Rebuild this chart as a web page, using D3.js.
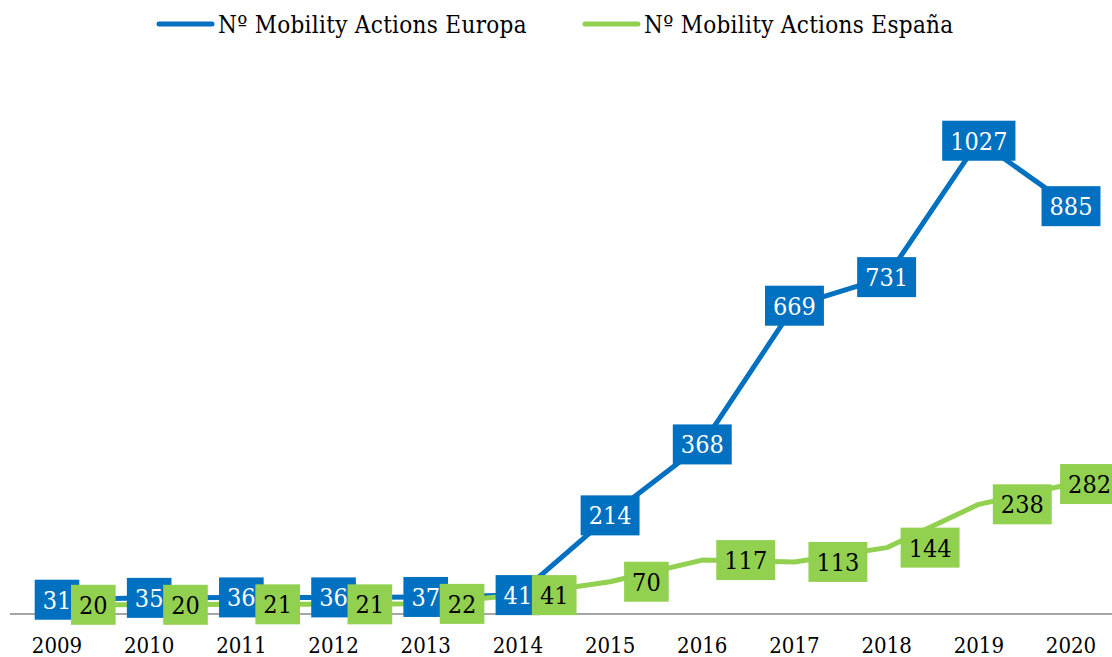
<!DOCTYPE html>
<html>
<head>
<meta charset="utf-8">
<script src="https://cdn.jsdelivr.net/npm/d3@7"></script>
<style>
  body { margin: 0; background: #fff; }
  svg text { font-family: "DejaVu Serif", serif; font-stretch: condensed; }
</style>
</head>
<body>
<svg id="chart" width="1112" height="657"></svg>
<script>
//Chart data
var years = ["2009", "2010", "2011", "2012", "2013", "2014", "2015", "2016", "2017", "2018", "2019", "2020"];
var europa = [31, 35, 36, 36, 37, 41, 214, 368, 669, 731, 1027, 885];
var espana = [20, 20, 21, 21, 22, 41, 70, 117, 113, 144, 238, 282];
var seriesNames = ["Nº Mobility Actions Europa", "Nº Mobility Actions España"];
var seriesColors = ["#0070C0", "#92D050"];

var svg = d3.select("svg#chart");

//Scales
var x = d3.scalePoint()
    .domain(years)
    .range([57, 1071]);
var y = d3.scaleLinear()
    .domain([0, 1200])
    .range([614, 61]);

//Axis line and year labels
svg.append("line")
    .attr("x1", 10).attr("x2", 1112)
    .attr("y1", y(0)).attr("y2", y(0))
    .attr("stroke", "#a6a6a6")
    .attr("stroke-width", 2);

svg.selectAll(".year")
  .data(years)
  .enter().append("text")
    .attr("class", "year")
    .attr("x", function (d) { return x(d); })
    .attr("y", 653)
    .attr("text-anchor", "middle")
    .style("font-size", "22px")
    .attr("fill", "#000")
    .text(function (d) { return d; });

//Lines
var line = d3.line()
    .x(function (d, i) { return x(years[i]); })
    .y(function (d) { return y(d); });

[europa, espana].forEach(function (vals, s) {
  svg.append("path")
      .datum(vals)
      .attr("d", line)
      .attr("fill", "none")
      .attr("stroke", seriesColors[s])
      .attr("stroke-width", 5)
      .attr("stroke-linejoin", "round");
});

//Data labels: Europa centered on the point, España to its right
function addLabels(vals, s) {
  var g = svg.selectAll(".lab" + s)
    .data(vals)
    .enter().append("g")
      .attr("class", "lab" + s);

  var txt = g.append("text")
      .attr("text-anchor", "middle")
      .attr("dy", "0.36em")
      .style("font-size", "25px")
      .attr("fill", s == 0 ? "#fff" : "#000")
      .text(function (d) { return d; });

  txt.each(function (d, i) {
    var w = this.getComputedTextLength() + 16;
    var cx = x(years[i]);
    if (s == 1) {
      cx = cx + 14 + w / 2;
      if (cx + w / 2 > 1119) cx = 1119 - w / 2;   //keep inside the chart area
    }
    var node = d3.select(this.parentNode);
    node.attr("transform", "translate(" + cx + "," + y(d) + ")");
    node.insert("rect", "text")
        .attr("x", -w / 2).attr("y", -20)
        .attr("width", w).attr("height", 40)
        .attr("fill", seriesColors[s]);
  });
}
addLabels(europa, 0);
addLabels(espana, 1);

//Legend
var legend = svg.selectAll(".legend")
  .data(seriesNames)
  .enter().append("g")
    .attr("class", "legend")
    .attr("transform", function (d, i) { return "translate(" + (i == 0 ? 159 : 585) + ",24)"; });

legend.append("line")
    .attr("x1", 0).attr("x2", 53)
    .attr("stroke", function (d, i) { return seriesColors[i]; })
    .attr("stroke-width", 5)
    .attr("stroke-linecap", "round");

legend.append("text")
    .attr("x", 59)
    .attr("dy", "0.36em")
    .style("font-size", "24px")
    .style("letter-spacing", "0.3px")
    .attr("fill", "#000")
    .text(function (d) { return d; });
</script>
</body>
</html>
